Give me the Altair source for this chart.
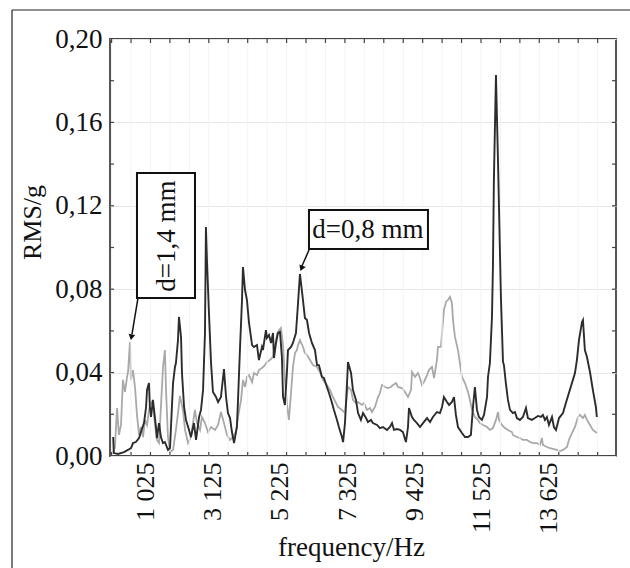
import altair as alt
import pandas as pd

# ---- data ----
freq_08 = [0, 20, 150, 340, 460, 560, 620, 710, 810, 870,
           965, 1030, 1060, 1120, 1150, 1185, 1245, 1280, 1340, 1370,
           1435, 1495, 1560, 1620, 1715, 1780, 1810, 1875, 1935, 1965,
           2030, 2060, 2125, 2155, 2220, 2280, 2375, 2435, 2530, 2595,
           2690, 2750, 2815, 2875, 2905, 2940, 3000, 3065, 3125, 3220,
           3285, 3375, 3470, 3535, 3595, 3660, 3720, 3785, 3875, 3910,
           3970, 4035, 4065, 4130, 4190, 4255, 4350, 4410, 4505, 4565,
           4660, 4690, 4785, 4815, 4880, 4945, 5005, 5035, 5100, 5160,
           5225, 5285, 5320, 5380, 5445, 5475, 5570, 5630, 5725, 5790,
           5850, 5945, 6005, 6070, 6135, 6225, 6320, 6385, 6445, 6540,
           6600, 6695, 6760, 6855, 6915, 7010, 7070, 7165, 7200, 7260,
           7325, 7355, 7450, 7510, 7605, 7670, 7760, 7825, 7920, 7980,
           8075, 8135, 8265, 8355, 8450, 8575, 8670, 8735, 8795, 8890,
           8985, 9075, 9170, 9235, 9265, 9360, 9420, 9515, 9610, 9705,
           9830, 9925, 10015, 10140, 10235, 10300, 10360, 10455, 10520, 10610,
           10675, 10735, 10800, 10925, 11020, 11115, 11205, 11270, 11330, 11395,
           11455, 11550, 11615, 11710, 11740, 11800, 11865, 11895, 11925, 11990,
           12055, 12145, 12210, 12240, 12300, 12365, 12430, 12520, 12585, 12645,
           12740, 12835, 12930, 12990, 13115, 13210, 13305, 13400, 13460, 13525,
           13585, 13650, 13745, 13805, 13870, 13965, 14090, 14180, 14275, 14400,
           14465, 14525, 14590, 14685, 14715, 14775, 14840, 14935, 15025, 15120, 15150]
rms_08 = [0.0091, 0.0014, 0.0010, 0.0019, 0.0029, 0.0038, 0.0062, 0.0067, 0.0086, 0.0115,
          0.0158, 0.0235, 0.0317, 0.0350, 0.0235, 0.0187, 0.0269, 0.0221, 0.0139, 0.0086,
          0.0158, 0.0091, 0.0062, 0.0067, 0.0029, 0.0038, 0.0139, 0.0350, 0.0427, 0.0446,
          0.0556, 0.0667, 0.0571, 0.0398, 0.0235, 0.0173, 0.0125, 0.0091, 0.0158, 0.0077,
          0.0187, 0.0221, 0.0317, 0.0590, 0.1098, 0.0926, 0.0686, 0.0446, 0.0307, 0.0283,
          0.0259, 0.0283, 0.0417, 0.0283, 0.0206, 0.0182, 0.0115, 0.0062, 0.0139, 0.0269,
          0.0508, 0.0748, 0.0906, 0.0796, 0.0748, 0.0638, 0.0532, 0.0523, 0.0532, 0.0460,
          0.0523, 0.0508, 0.0604, 0.0566, 0.0580, 0.0542, 0.0590, 0.0470, 0.0542, 0.0590,
          0.0595, 0.0475, 0.0283, 0.0245, 0.0412, 0.0508, 0.0523, 0.0542, 0.0590, 0.0734,
          0.0873, 0.0748, 0.0662, 0.0652, 0.0590, 0.0542, 0.0508, 0.0436, 0.0436, 0.0379,
          0.0374, 0.0331, 0.0302, 0.0254, 0.0221, 0.0173, 0.0139, 0.0091, 0.0067, 0.0158,
          0.0350, 0.0451, 0.0398, 0.0317, 0.0269, 0.0206, 0.0173, 0.0206, 0.0182, 0.0163,
          0.0173, 0.0158, 0.0149, 0.0134, 0.0139, 0.0125, 0.0139, 0.0158, 0.0125, 0.0129,
          0.0125, 0.0115, 0.0067, 0.0139, 0.0230, 0.0187, 0.0173, 0.0158, 0.0139, 0.0158,
          0.0182, 0.0163, 0.0187, 0.0211, 0.0206, 0.0235, 0.0283, 0.0259, 0.0245, 0.0259,
          0.0283, 0.0197, 0.0139, 0.0110, 0.0091, 0.0091, 0.0101, 0.0235, 0.0331, 0.0221,
          0.0187, 0.0173, 0.0197, 0.0283, 0.0379, 0.0446, 0.0667, 0.0906, 0.1324, 0.1827,
          0.1405, 0.0763, 0.0451, 0.0436, 0.0350, 0.0269, 0.0221, 0.0206, 0.0211, 0.0182,
          0.0173, 0.0187, 0.0230, 0.0182, 0.0173, 0.0182, 0.0192, 0.0187, 0.0197, 0.0173,
          0.0187, 0.0149, 0.0187, 0.0139, 0.0125, 0.0182, 0.0206, 0.0254, 0.0302, 0.0365,
          0.0398, 0.0460, 0.0556, 0.0643, 0.0652, 0.0508, 0.0475, 0.0403, 0.0317, 0.0235, 0.0187]

freq_14 = [0, 55, 120, 180, 245, 305, 370, 435, 465, 525,
           555, 620, 685, 745, 810, 870, 935, 995, 1060, 1120,
           1185, 1245, 1310, 1370, 1435, 1495, 1560, 1620, 1655, 1715,
           1780, 1875, 1965, 2030, 2090, 2185, 2250, 2345, 2435, 2500,
           2560, 2625, 2720, 2780, 2875, 2970, 3065, 3190, 3285, 3375,
           3470, 3565, 3660, 3750, 3845, 3910, 4005, 4065, 4130, 4190,
           4255, 4350, 4410, 4505, 4565, 4660, 4755, 4815, 4910, 5005,
           5070, 5130, 5195, 5255, 5320, 5380, 5445, 5505, 5570, 5630,
           5695, 5755, 5790, 5850, 5945, 6005, 6070, 6165, 6260, 6385,
           6475, 6570, 6695, 6790, 6885, 6980, 7040, 7165, 7260, 7355,
           7450, 7510, 7605, 7670, 7795, 7855, 7950, 8045, 8105, 8200,
           8295, 8355, 8420, 8515, 8605, 8700, 8765, 8860, 8920, 9045,
           9140, 9235, 9330, 9360, 9455, 9545, 9610, 9670, 9735, 9830,
           9890, 9985, 10050, 10140, 10175, 10265, 10300, 10360, 10425, 10485,
           10550, 10610, 10645, 10705, 10800, 10860, 10925, 11020, 11115, 11175,
           11240, 11330, 11425, 11490, 11585, 11710, 11800, 11895, 11990, 12055,
           12085, 12175, 12270, 12365, 12490, 12520, 12645, 12740, 12835, 12960,
           13055, 13150, 13275, 13370, 13430, 13460, 13585, 13680, 13775, 13900,
           13995, 14090, 14215, 14275, 14370, 14465, 14560, 14620, 14715, 14775,
           14840, 14935, 15025, 15150]
rms_14 = [0.0019, 0.0043, 0.0230, 0.0101, 0.0149, 0.0365, 0.0307, 0.0379, 0.0403, 0.0547,
          0.0365, 0.0412, 0.0326, 0.0197, 0.0101, 0.0139, 0.0091, 0.0173, 0.0149, 0.0221,
          0.0259, 0.0245, 0.0149, 0.0077, 0.0062, 0.0235, 0.0427, 0.0508, 0.0317, 0.0091,
          0.0019, 0.0029, 0.0125, 0.0206, 0.0288, 0.0221, 0.0125, 0.0062, 0.0091, 0.0158,
          0.0221, 0.0158, 0.0125, 0.0187, 0.0158, 0.0115, 0.0139, 0.0125, 0.0149, 0.0211,
          0.0158, 0.0101, 0.0077, 0.0091, 0.0115, 0.0187, 0.0269, 0.0365, 0.0331, 0.0379,
          0.0388, 0.0355, 0.0398, 0.0388, 0.0412, 0.0422, 0.0436, 0.0451, 0.0460, 0.0475,
          0.0532, 0.0580, 0.0604, 0.0614, 0.0532, 0.0365, 0.0245, 0.0173, 0.0302, 0.0427,
          0.0494, 0.0508, 0.0532, 0.0556, 0.0523, 0.0494, 0.0484, 0.0460, 0.0436, 0.0427,
          0.0403, 0.0365, 0.0341, 0.0317, 0.0283, 0.0254, 0.0235, 0.0221, 0.0206, 0.0331,
          0.0317, 0.0269, 0.0254, 0.0259, 0.0245, 0.0254, 0.0221, 0.0230, 0.0211, 0.0235,
          0.0283, 0.0302, 0.0341, 0.0331, 0.0326, 0.0331, 0.0341, 0.0350, 0.0331, 0.0326,
          0.0307, 0.0283, 0.0317, 0.0403, 0.0379, 0.0398, 0.0374, 0.0341, 0.0355, 0.0388,
          0.0412, 0.0427, 0.0374, 0.0460, 0.0523, 0.0523, 0.0590, 0.0700, 0.0739, 0.0748,
          0.0763, 0.0734, 0.0652, 0.0571, 0.0508, 0.0446, 0.0379, 0.0350, 0.0307, 0.0269,
          0.0221, 0.0187, 0.0173, 0.0158, 0.0149, 0.0139, 0.0125, 0.0134, 0.0173, 0.0211,
          0.0173, 0.0149, 0.0134, 0.0125, 0.0115, 0.0101, 0.0091, 0.0086, 0.0077, 0.0077,
          0.0067, 0.0062, 0.0062, 0.0053, 0.0086, 0.0053, 0.0043, 0.0038, 0.0034, 0.0029,
          0.0024, 0.0029, 0.0043, 0.0077, 0.0110, 0.0139, 0.0187, 0.0197, 0.0182, 0.0197,
          0.0173, 0.0149, 0.0125, 0.0110]

x_tick_values = [1025, 3125, 5225, 7325, 9425, 11525, 13625]
x_minor_values = [-50, 559, 1168, 1777, 2386, 2995, 3604, 4213, 4822, 5431,
                  6040, 6649, 7258, 7867, 8476, 9085, 9694, 10303, 10912, 11521,
                  12130, 12739, 13348, 13957, 14566, 15175]
y_tick_values = [0.0, 0.04, 0.08, 0.12, 0.16, 0.20]
y_minor_values = [0.02, 0.04, 0.06, 0.08, 0.10, 0.12, 0.14, 0.16, 0.18]

# annotation boxes / labels / arrows (data coordinates)
ann_text = ["d=1,4 mm", "d=0,8 mm"]
ann_text_freq = [1685, 7980]
ann_text_rms = [0.1055, 0.1084]
box_freq = [745, 6133]
box_freq2 = [2562, 9860]
box_rms = [0.1357, 0.1180]
box_rms2 = [0.0758, 0.0993]
arrow_freq = [777, 6133]
arrow_rms = [0.0758, 0.0988]
arrow_freq2 = [589, 5913]
arrow_rms2 = [0.0585, 0.0911]
tip_freq = [570, 5898]
tip_rms = [0.0570, 0.0900]
tip_angle = [10, 22]

FONT = "Liberation Serif"
xs = alt.Scale(domain=[-100, 15750], nice=False, zero=False)
ys = alt.Scale(domain=[0, 0.2], nice=False, zero=False)

df08 = pd.DataFrame({"f": freq_08, "v": rms_08})
df14 = pd.DataFrame({"f": freq_14, "v": rms_14})
dxm = pd.DataFrame({"f": x_minor_values})
dym = pd.DataFrame({"v": y_minor_values})
one = pd.DataFrame({"a": [0]})

x_axis = alt.Axis(
    values=x_tick_values, labelAngle=-90,
    labelExpr="replace(format(datum.value, ','), ',', ' ')",
    labelFont=FONT, labelFontSize=26, labelColor="#111", labelPadding=6,
    ticks=False, domain=False, grid=False,
    title="frequency/Hz", titleFont=FONT, titleFontSize=27, titleFontWeight="normal",
    titleColor="#111", titleX=241, titleY=99, titleBaseline="alphabetic", titleAlign="center",
)
y_axis = alt.Axis(
    values=y_tick_values,
    labelExpr="replace(format(datum.value, '.2f'), '.', ',')",
    labelFont=FONT, labelFontSize=27, labelColor="#111", labelPadding=8,
    ticks=False, domain=False, grid=True, gridColor="#e6e6e6", gridWidth=1,
    title="RMS/g", titleFont=FONT, titleFontSize=26, titleFontWeight="normal",
    titleColor="#111", titleX=-70, titleY=183, titleAngle=270,
    titleBaseline="alphabetic", titleAlign="center",
)

X = alt.X("f:Q", scale=xs, axis=x_axis, title="frequency/Hz")
Y = alt.Y("v:Q", scale=ys, axis=y_axis, title="RMS/g")

light = alt.Chart(df14).mark_line(color="#a9a9a9", strokeWidth=1.8).encode(x=X, y=Y)
dark = alt.Chart(df08).mark_line(color="#2c2c2c", strokeWidth=1.9).encode(x=X, y=Y)

# outer figure frame: top and left edges only (the rest lies outside the picture)
frame_top = alt.Chart(one).mark_rule(color="#222", strokeWidth=1.2).encode(
    x=alt.value(-98), x2=alt.value(530), y=alt.value(-29))
frame_left = alt.Chart(one).mark_rule(color="#222", strokeWidth=1.2).encode(
    x=alt.value(-98), y=alt.value(-29), y2=alt.value(540))

vgrid = alt.Chart(dxm).mark_rule(color="#f3f3f3", strokeWidth=1).encode(
    x=X, y=alt.value(0), y2=alt.value(417)
)

tick_color = "#444"
tick_top = alt.Chart(dxm).mark_rule(color=tick_color, strokeWidth=1.2).encode(
    x=X, y=alt.value(0), y2=alt.value(4))
tick_bottom = alt.Chart(dxm).mark_rule(color=tick_color, strokeWidth=1.2).encode(
    x=X, y=alt.value(413), y2=alt.value(417))
tick_left = alt.Chart(dym).mark_rule(color=tick_color, strokeWidth=1.2).encode(
    y=Y, x=alt.value(0), x2=alt.value(4))
tick_right = alt.Chart(dym).mark_rule(color=tick_color, strokeWidth=1.2).encode(
    y=Y, x=alt.value(502), x2=alt.value(506))

dbox = pd.DataFrame({"f": box_freq, "f2": box_freq2, "v": box_rms, "v2": box_rms2})
boxes = alt.Chart(dbox).mark_rect(fill="white", stroke="#111", strokeWidth=2).encode(
    x=X, x2="f2:Q", y=Y, y2="v2:Q",
)

dt = pd.DataFrame({"t": ann_text, "f": ann_text_freq, "v": ann_text_rms})
text14 = alt.Chart(dt.iloc[[0]]).mark_text(
    font=FONT, fontSize=27, angle=270, align="center", baseline="middle", color="#111"
).encode(x=X, y=Y, text="t:N")
text08 = alt.Chart(dt.iloc[[1]]).mark_text(
    font=FONT, fontSize=27, align="center", baseline="middle", color="#111"
).encode(x=X, y=Y, text="t:N")

darr = pd.DataFrame({"f": arrow_freq, "v": arrow_rms, "f2": arrow_freq2, "v2": arrow_rms2})
arrows = alt.Chart(darr).mark_rule(color="#111", strokeWidth=1.5).encode(
    x=X, x2="f2:Q", y=Y, y2="v2:Q",
)
dtip = pd.DataFrame({"f": tip_freq, "v": tip_rms, "a": tip_angle})
tips = alt.Chart(dtip).mark_point(shape="triangle-down", filled=True, color="#111", size=45, opacity=1).encode(
    x=X, y=Y, angle=alt.Angle("a:Q", scale=None),
)

chart = alt.layer(
    light, frame_top, frame_left, vgrid, dark, tick_top, tick_bottom, tick_left, tick_right,
    boxes, text14, text08, arrows, tips
).properties(
    width=506, height=417,
    padding={"left": 110, "top": 39, "right": 14, "bottom": 112},
    autosize=alt.AutoSizeParams(type="none"),
    background="white",
).configure_view(stroke="#444", strokeWidth=1.8)

chart.save("out.html", embed_options={"renderer": "svg", "actions": False})
